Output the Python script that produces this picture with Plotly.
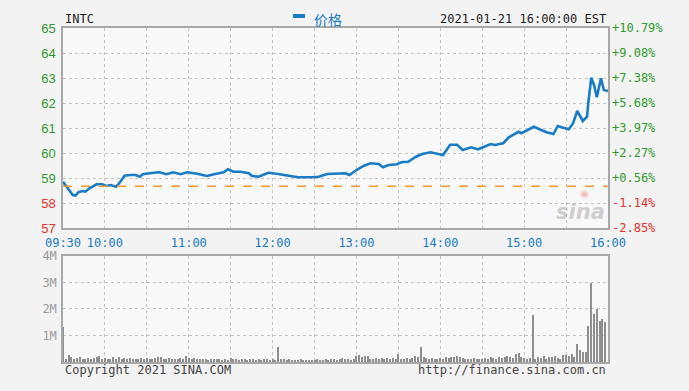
import plotly.graph_objects as go
import pandas as pd

DATE = "2021-01-21"
ticker = "INTC"
stamp = "2021-01-21 16:00:00 EST"
ref_price = 58.67

price_times = ["09:30","09:32","09:37","09:39","09:41","09:44","09:46","09:49","09:54","09:58",
               "10:01","10:04","10:08","10:11","10:14","10:18","10:22","10:25","10:27","10:35",
               "10:39","10:44","10:49","10:54","10:59","11:06","11:13","11:18","11:25","11:28",
               "11:32","11:37","11:43","11:45","11:50","11:53","11:57","12:04","12:11","12:18",
               "12:28","12:33","12:39","12:47","12:52","12:55","12:59","13:05","13:10","13:16",
               "13:19","13:23","13:29","13:32","13:37","13:42","13:47","13:53","13:57","14:02",
               "14:07","14:12","14:16","14:22","14:27","14:36","14:39","14:45","14:49","14:52",
               "14:56","14:58","15:02","15:07","15:11","15:16","15:21","15:24","15:28","15:32",
               "15:35","15:38","15:42","15:45","15:46","15:48","15:50","15:52","15:55","15:57","16:00"]
price_vals = [58.85,58.70,58.32,58.30,58.43,58.48,58.46,58.59,58.75,58.75,
              58.68,58.72,58.65,58.85,59.09,59.12,59.12,59.05,59.15,59.21,
              59.23,59.15,59.23,59.15,59.23,59.17,59.08,59.15,59.23,59.35,
              59.25,59.25,59.19,59.09,59.05,59.12,59.21,59.16,59.09,59.03,
              59.03,59.05,59.16,59.16,59.19,59.12,59.28,59.48,59.59,59.56,
              59.43,59.52,59.55,59.63,59.65,59.83,59.96,60.03,59.99,59.92,
              60.33,60.33,60.12,60.23,60.15,60.36,60.32,60.39,60.63,60.72,
              60.85,60.79,60.92,61.05,60.95,60.83,60.76,61.08,61.01,60.95,
              61.19,61.68,61.28,61.45,62.05,63.01,62.72,62.23,62.99,62.52,62.48]

# volume (millions), one bar per 2 minutes, rows = half hours
volume_m = [
    1.32,0.12,0.25,0.20,0.10,0.15,0.18,0.12,0.10,0.16,0.12,0.14,0.20,0.22,0.10,
    0.15,0.12,0.10,0.18,0.12,0.20,0.10,0.14,0.12,0.16,0.10,0.13,0.12,0.15,0.10,
    0.14,0.10,0.12,0.15,0.20,0.18,0.12,0.11,0.16,0.13,0.12,0.10,0.15,0.12,0.24,
    0.16,0.12,0.14,0.10,0.13,0.12,0.10,0.08,0.12,0.11,0.10,0.12,0.08,0.10,0.09,
    0.14,0.10,0.12,0.09,0.10,0.12,0.08,0.10,0.11,0.09,0.10,0.08,0.12,0.10,0.09,
    0.12,0.08,0.58,0.10,0.12,0.08,0.10,0.09,0.08,0.07,0.10,0.08,0.07,0.09,0.08,
    0.08,0.10,0.07,0.09,0.11,0.08,0.10,0.12,0.09,0.10,0.15,0.12,0.10,0.09,0.12,
    0.22,0.25,0.20,0.24,0.22,0.12,0.10,0.14,0.12,0.14,0.12,0.15,0.13,0.14,0.12,
    0.30,0.12,0.10,0.14,0.12,0.15,0.22,0.20,0.58,0.18,0.15,0.12,0.14,0.10,0.12,
    0.15,0.12,0.20,0.14,0.18,0.20,0.22,0.18,0.15,0.12,0.12,0.10,0.14,0.12,0.10,
    0.12,0.15,0.10,0.20,0.14,0.12,0.18,0.16,0.20,0.22,0.18,0.14,0.30,0.33,0.18,
    0.15,0.10,0.16,1.76,0.12,0.20,0.15,0.22,0.12,0.18,0.20,0.22,0.16,0.12,0.25,
    0.28,0.22,0.30,0.20,0.67,0.44,0.38,0.36,1.35,3.00,1.83,2.00,1.55,1.64,1.51,
]
vol_times = pd.date_range(f"{DATE} 09:30", periods=len(volume_m), freq="2min")

price_ticks = [57, 58, 59, 60, 61, 62, 63, 64, 65]
pct_labels = ["-2.85%", "-1.14%", "+0.56%", "+2.27%", "+3.97%", "+5.68%", "+7.38%", "+9.08%", "+10.79%"]
vol_ticks = [1, 2, 3, 4]
vol_labels = ["1M", "2M", "3M", "4M"]
time_ticks = ["09:30","10:00","10:30","11:00","11:30","12:00","12:30","13:00","13:30",
              "14:00","14:30","15:00","15:30","16:00"]
time_labels = ["09:30","10:00","","11:00","","12:00","","13:00","","14:00","","15:00","","16:00"]

GREEN = "#2f9a2f"
RED = "#e8302c"
BLUE = "#1a7cc4"
GRID = "#c4c4c4"
FRAME = "#a8a8a8"
BG = "#f3f3f3"
MONO = "DejaVu Sans Mono"

def ts(t):
    return f"{DATE} {t}"

left_text = [f'<span style="color:{RED if v < ref_price else GREEN}">{v}</span>' for v in price_ticks]
right_text = [f'<span style="color:{RED if l.startswith("-") else GREEN}">{l}</span>' for l in pct_labels]

fig = go.Figure()
fig.add_trace(go.Scatter(x=[ts(t) for t in price_times], y=price_vals, mode="lines",
                         line=dict(color=BLUE, width=2.6), xaxis="x", yaxis="y",
                         showlegend=False, hoverinfo="skip"))
fig.add_trace(go.Scatter(x=[ts("09:30"), ts("16:00")], y=[ref_price, ref_price], mode="lines",
                         line=dict(color="#f39a2e", width=1.5, dash="dash"),
                         xaxis="x", yaxis="y3", showlegend=False, hoverinfo="skip"))
fig.add_trace(go.Bar(x=vol_times, y=volume_m, xaxis="x2", yaxis="y2",
                     marker=dict(color="#8e8e8e", line=dict(width=0)),
                     width=45000, showlegend=False, hoverinfo="skip"))

xr = [ts("09:30"), ts("16:00")]
common_x = dict(range=xr, type="date", tickvals=[ts(t) for t in time_ticks],
                showgrid=True, gridcolor=GRID, griddash="dot", gridwidth=1,
                showline=True, mirror=True, linecolor=FRAME, linewidth=1.5,
                ticks="", zeroline=False, fixedrange=True)

# the page body has an 8px default margin: compensate so the plot lands where the reference has it
fig.update_layout(
    width=681, height=383,
    margin=dict(l=55, r=81, t=20, b=29, pad=0),
    paper_bgcolor=BG, plot_bgcolor="#f8f8f8",
    bargap=0,
    xaxis=dict(**common_x, anchor="y", domain=[0, 1], ticktext=time_labels,
               ticklabelstandoff=3,
               tickfont=dict(family=MONO, size=12, color=BLUE)),
    xaxis2=dict(**common_x, anchor="y2", domain=[0, 1], showticklabels=False),
    yaxis=dict(domain=[0.4012, 1], range=[57, 65], tickvals=price_ticks, ticktext=left_text,
               tickfont=dict(family="Liberation Sans", size=13), ticklabelstandoff=3,
               showgrid=True, gridcolor=GRID, griddash="dot", zeroline=False,
               showline=True, mirror=True, linecolor=FRAME, linewidth=1.5, ticks="",
               anchor="x", fixedrange=True),
    yaxis3=dict(overlaying="y", side="right", range=[57, 65], tickvals=price_ticks,
                ticktext=right_text, tickfont=dict(family=MONO, size=12), ticklabelstandoff=3,
                showgrid=False, zeroline=False, showline=False, ticks="", anchor="x",
                fixedrange=True),
    yaxis2=dict(domain=[0, 0.3174], range=[0, 4], tickvals=vol_ticks, ticktext=vol_labels,
                tickfont=dict(family=MONO, size=12, color="#9a9a9a"), ticklabelstandoff=2,
                showgrid=True, gridcolor=GRID, griddash="dot", zeroline=False,
                showline=True, mirror=True, linecolor=FRAME, linewidth=1.5, ticks="",
                anchor="x2", fixedrange=True),
    showlegend=False,
)

# legend marker + label
fig.add_shape(type="line", xref="paper", yref="paper", x0=0.422, x1=0.444, y0=1.036, y1=1.036,
              line=dict(color=BLUE, width=4))
fig.add_annotation(xref="paper", yref="paper", x=0.457, y=1.028, text="价格", showarrow=False,
                   xanchor="left", yanchor="middle",
                   font=dict(family="Noto Sans CJK SC", size=14, color=BLUE))
fig.add_annotation(xref="paper", yref="paper", x=0.0, y=1.028, text=ticker, showarrow=False,
                   xanchor="left", yanchor="middle", font=dict(family=MONO, size=12, color="#222"))
fig.add_annotation(xref="paper", yref="paper", x=1.0, y=1.026, text=stamp, showarrow=False,
                   xanchor="right", yanchor="middle", font=dict(family=MONO, size=12, color="#222"))
fig.add_annotation(xref="paper", yref="paper", x=0.0, y=-0.024, text="Copyright 2021 SINA.COM",
                   showarrow=False, xanchor="left", yanchor="middle",
                   font=dict(family=MONO, size=12, color="#444"))
fig.add_annotation(xref="paper", yref="paper", x=1.0, y=-0.024, text="http://finance.sina.com.cn",
                   showarrow=False, xanchor="right", yanchor="middle",
                   font=dict(family=MONO, size=12, color="#444"))
# watermark
fig.add_annotation(xref="paper", yref="paper", x=0.998, y=0.45, text="<i><b>sina</b></i>",
                   showarrow=False, xanchor="right", yanchor="middle",
                   font=dict(family="DejaVu Sans", size=21, color="rgba(170,170,170,0.55)"))
fig.add_annotation(xref="paper", yref="paper", x=0.958, y=0.505, text="◉",
                   showarrow=False, xanchor="center", yanchor="middle",
                   font=dict(family="DejaVu Sans", size=11, color="rgba(230,120,120,0.45)"))

fig.write_html("out.html", config={"displayModeBar": False},
               post_script=f"document.body.style.background='{BG}';")
